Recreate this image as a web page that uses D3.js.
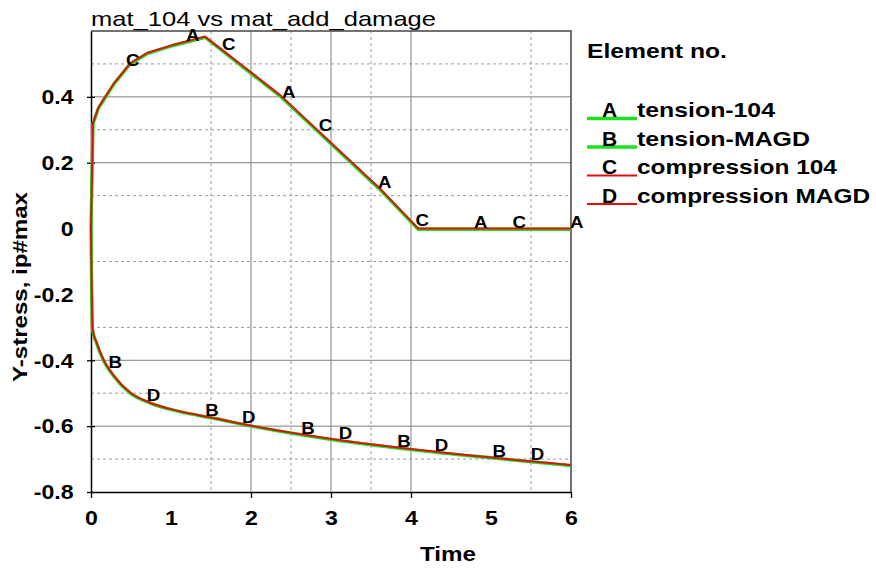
<!DOCTYPE html>
<html>
<head>
<meta charset="utf-8">
<script src="https://cdn.jsdelivr.net/npm/d3@7"></script>
<style>
  body { margin: 0; background: #fff; }
  text { font-family: "Liberation Sans", Arial, sans-serif; fill: #000; }
</style>
</head>
<body>
<svg id="chart" width="876" height="570"></svg>
<script>
// upper curve (A, C) and lower curve (B, D)
const timeUpper = [0, 0.025, 0.09, 0.154, 0.29, 0.49, 0.7, 1.03, 1.425, 2.36, 3.61, 4.09, 6.0];
const tension104 = [0, 0.318, 0.364, 0.389, 0.44, 0.5, 0.531, 0.556, 0.581, 0.403, 0.119, -0.002, -0.002];
const compression104 = [0, 0.32, 0.366, 0.391, 0.442, 0.502, 0.533, 0.558, 0.583, 0.406, 0.122, 0, 0];

const timeLower = [0, 0.02, 0.07, 0.154, 0.29, 0.49, 0.74, 1.11, 1.53, 1.99, 2.99, 4.03, 5.07, 6.0];
const tensionMAGD = [0, -0.308, -0.348, -0.399, -0.45, -0.5, -0.53, -0.556, -0.576, -0.599, -0.64, -0.672, -0.698, -0.72];
const compressionMAGD = [0, -0.306, -0.346, -0.397, -0.448, -0.498, -0.529, -0.555, -0.575, -0.598, -0.638, -0.67, -0.697, -0.718];

// where the letter markers sit along each curve
const labelTimesA = [1.2, 2.4, 3.6, 4.8, 6.0];
const labelTimesB = [0.23, 1.44, 2.64, 3.84, 5.03];
const labelTimesC = [0.45, 1.65, 2.86, 4.07, 5.28];
const labelTimesD = [0.71, 1.9, 3.11, 4.31, 5.51];

const legendLetters = ["A", "B", "C", "D"];
const legendNames = ["tension-104", "tension-MAGD", "compression 104", "compression MAGD"];

const xTickValues = [0, 1, 2, 3, 4, 5, 6];
const xTickMarks = [0, 2, 3, 4, 6];
const xGridMajor = [2, 3, 4];
const xGridMinor = [1.5, 2.5, 3.5, 5.5];

const yTickValues = [0.4, 0.2, 0, -0.2, -0.4, -0.6, -0.8];
const yTickMarks = [0.4, 0.2, -0.4, -0.6, -0.8];
const yGridMajor = [0.4, 0.2, -0.4, -0.6];
const yGridMinor = [0.5, 0.3, 0.1, -0.1, -0.3, -0.5, -0.7];

const GREEN = "#1ee01e";
const RED = "#e01010";

// upper curve has sharp corners (peak, unload end) so it stays linear
let series = [
  { letter: "A", t: timeUpper, v: tension104, color: GREEN, width: 3.4, labels: labelTimesA, curve: d3.curveLinear },
  { letter: "B", t: timeLower, v: tensionMAGD, color: GREEN, width: 3.4, labels: labelTimesB, curve: d3.curveMonotoneX },
  { letter: "C", t: timeUpper, v: compression104, color: RED, width: 2, labels: labelTimesC, curve: d3.curveLinear },
  { letter: "D", t: timeLower, v: compressionMAGD, color: RED, width: 2, labels: labelTimesD, curve: d3.curveMonotoneX }
];

const svg = d3.select("#chart");
const x = d3.scaleLinear().domain([0, 6]).range([91, 571]);
const y = d3.scaleLinear().domain([-0.8, 0.6]).range([492, 31]);

// grid
let grid = svg.append("g");
grid.selectAll("line.xmin").data(xGridMinor).join("line")
  .attr("x1", d => x(d)).attr("x2", d => x(d))
  .attr("y1", y(0.6)).attr("y2", y(-0.8))
  .attr("stroke", "#9a9a9a").attr("stroke-dasharray", "3,3");
grid.selectAll("line.ymin").data(yGridMinor).join("line")
  .attr("x1", x(0)).attr("x2", x(6))
  .attr("y1", d => y(d)).attr("y2", d => y(d))
  .attr("stroke", "#9a9a9a").attr("stroke-dasharray", "3,3");
grid.selectAll("line.xmaj").data(xGridMajor).join("line")
  .attr("x1", d => x(d)).attr("x2", d => x(d))
  .attr("y1", y(0.6)).attr("y2", y(-0.8))
  .attr("stroke", "#808080");
grid.selectAll("line.ymaj").data(yGridMajor).join("line")
  .attr("x1", x(0)).attr("x2", x(6))
  .attr("y1", d => y(d)).attr("y2", d => y(d))
  .attr("stroke", "#808080");

// top / right frame
svg.append("path")
  .attr("d", `M${x(0)},${y(0.6)}H${x(6)}V${y(-0.8)}`)
  .attr("fill", "none").attr("stroke", "#444").attr("stroke-width", 1.5);

// axes
let yAxis = svg.append("g")
  .attr("transform", `translate(${x(0)},0)`)
  .call(d3.axisLeft(y).tickValues(yTickValues).tickFormat(d => String(d)).tickSize(4).tickSizeOuter(0));
let xAxis = svg.append("g")
  .attr("transform", `translate(0,${y(-0.8)})`)
  .call(d3.axisBottom(x).tickValues(xTickValues).tickFormat(d => String(d)).tickSize(6).tickSizeOuter(0));

[yAxis, xAxis].forEach(a => {
  a.select(".domain").attr("stroke", "#000").attr("stroke-width", 1.5);
  a.selectAll(".tick line").attr("stroke", "#000").attr("stroke-width", 1.3);
  a.selectAll("text")
    .attr("fill", "#000")
    .style("font-size", "21px")
    .style("font-weight", "bold")
    .style("font-family", '"Liberation Sans", Arial, sans-serif');
});
yAxis.selectAll(".tick line").attr("x1", 4).attr("opacity", d => (yTickMarks.includes(d) ? 1 : 0));
xAxis.selectAll(".tick line").attr("opacity", d => (xTickMarks.includes(d) ? 1 : 0));
yAxis.selectAll("text").attr("x", -17.5 / 1.1).attr("transform", "scale(1.1,1)");
xAxis.selectAll("text").attr("y", 18).attr("dy", "0.71em").attr("transform", "scale(1.1,1)")
  .attr("x", 0);

// curves: green first, red over it
svg.append("g").selectAll("path").data(series).join("path")
  .attr("d", s => d3.line().curve(s.curve)
    .x(d => x(d[0]))
    .y(d => y(d[1]))(s.t.map((t, i) => [t, s.v[i]])))
  .attr("fill", "none")
  .attr("stroke", s => s.color)
  .attr("stroke-width", s => s.width)
  .attr("stroke-linejoin", "round");

function valueAt(s, t) {
  let i = d3.bisectLeft(s.t, t);
  if (i <= 0) return s.v[0];
  if (i >= s.t.length) return s.v[s.v.length - 1];
  let t0 = s.t[i - 1], t1 = s.t[i];
  return s.v[i - 1] + ((t - t0) / (t1 - t0)) * (s.v[i] - s.v[i - 1]);
}

// letter markers on the curves
series.forEach(s => {
  svg.append("g").selectAll("text").data(s.labels).join("text")
    .attr("transform", t => `translate(${x(t) - 1},${y(valueAt(s, t)) - 1}) scale(1.1,1)`)
    .style("font-size", "17px")
    .style("font-weight", "bold")
    .text(s.letter);
});

// title
svg.append("text")
  .attr("x", 91).attr("y", 26)
  .attr("textLength", 345).attr("lengthAdjust", "spacingAndGlyphs")
  .style("font-size", "21px")
  .text("mat_104 vs mat_add_damage");

// axis titles
svg.append("text")
  .attr("x", 420).attr("y", 561)
  .attr("textLength", 56).attr("lengthAdjust", "spacingAndGlyphs")
  .style("font-size", "21px").style("font-weight", "bold")
  .text("Time");

svg.append("text")
  .attr("transform", "translate(27,382) rotate(-90)")
  .attr("textLength", 190).attr("lengthAdjust", "spacingAndGlyphs")
  .style("font-size", "19.5px").style("font-weight", "bold")
  .text("Y-stress, ip#max");

// legend
let legend = svg.append("g");
legend.append("text")
  .attr("x", 587).attr("y", 58)
  .attr("textLength", 140).attr("lengthAdjust", "spacingAndGlyphs")
  .style("font-size", "21px").style("font-weight", "bold")
  .text("Element no.");

const legendLengths = [138, 173, 200, 233];
let rows = legend.selectAll("g.row").data(series).join("g")
  .attr("class", "row")
  .attr("transform", (s, i) => `translate(0,${117 + i * 28.5})`);
rows.append("line")
  .attr("x1", 587).attr("x2", 637).attr("y1", 1.5).attr("y2", 1.5)
  .attr("stroke", s => s.color)
  .attr("stroke-width", s => (s.color === GREEN ? 3.4 : 2));
rows.append("text")
  .attr("x", 602).attr("y", 0)
  .style("font-size", "21px").style("font-weight", "bold")
  .text((s, i) => legendLetters[i]);
rows.append("text")
  .attr("x", 637).attr("y", 0)
  .attr("textLength", (s, i) => legendLengths[i]).attr("lengthAdjust", "spacingAndGlyphs")
  .style("font-size", "21px").style("font-weight", "bold")
  .text((s, i) => legendNames[i]);
</script>
</body>
</html>
